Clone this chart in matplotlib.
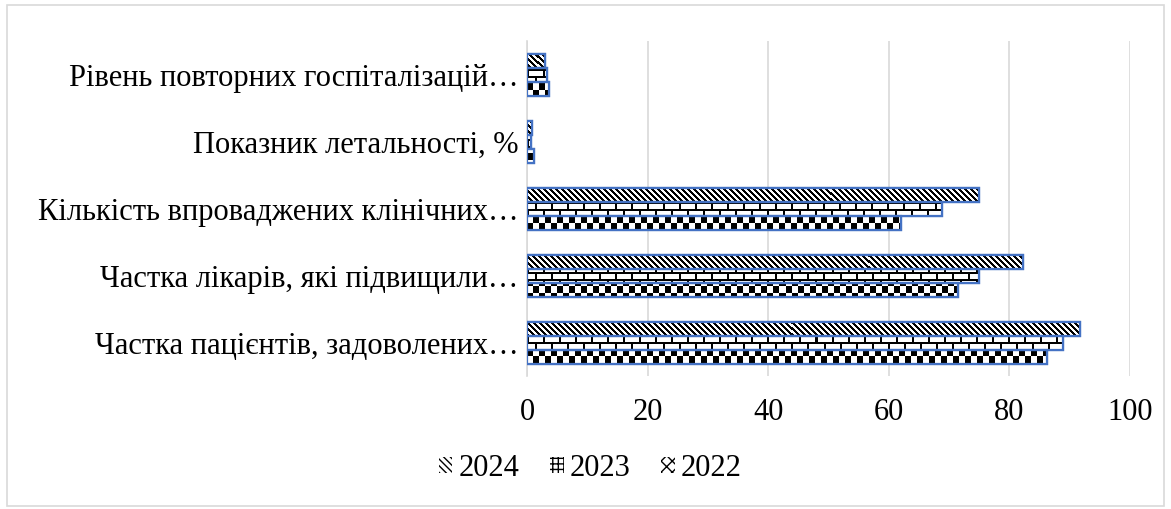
import numpy as np
import matplotlib
matplotlib.use("Agg")
import matplotlib.pyplot as plt
from matplotlib.patches import Patch, Rectangle

# Дані з графіка
categories = [
    "Частка пацієнтів, задоволених…",
    "Частка лікарів, які підвищили…",
    "Кількість впроваджених клінічних…",
    "Показник летальності, %",
    "Рівень повторних госпіталізацій…",
]
years = ["2024", "2023", "2022"]
values_2024 = [91.7, 82.3, 75.0, 0.9, 3.0]
values_2023 = [88.9, 75.0, 68.8, 0.7, 3.3]
values_2022 = [86.2, 71.5, 62.0, 1.1, 3.6]
x_ticks = [0, 20, 40, 60, 80, 100]

plt.rcParams['font.family'] = ['Liberation Serif', 'DejaVu Serif']

BLUE = "#4472C4"
GRID = "#d9d9d9"


def tile_stripes(h, w):
    i, j = np.mgrid[0:h, 0:w]
    return ((j - i) % 6 < 3).astype(float)


def tile_bricks(h, w):
    i, j = np.mgrid[0:h, 0:w]
    row = i // 7
    shift = (row % 2) * 8
    horiz = (i % 7) < 2
    vert = ((j + shift) % 16) < 2
    return (horiz | vert).astype(float)


def tile_checker(h, w):
    i, j = np.mgrid[0:h, 0:w]
    return (((i // 7) + (j // 6)) % 2 == 0).astype(float)


fig = plt.figure(figsize=(11.71, 5.09), dpi=100)
ax = fig.add_axes([0.45, 0.261, 0.515, 0.658])

y = np.arange(len(categories))
h = 0.21
series = [
    (values_2024, +h, tile_stripes, "\\\\\\\\\\"),
    (values_2023, 0.0, tile_bricks, "+++"),
    (values_2022, -h, tile_checker, "xxx"),
]

ax.set_xlim(0, 100)
ax.set_ylim(-0.5, len(categories) - 0.5)

# розмір осей у пікселях для текстур
px_w, px_h = 603, 335
for vals, off, tiler, _ in series:
    bars = ax.barh(y + off, vals, height=h, color="white", edgecolor=BLUE,
                   linewidth=1.6, zorder=3)
    pattern = tiler(px_h, px_w)
    for b in bars:
        im = ax.imshow(pattern, cmap="gray_r", vmin=0, vmax=1,
                       extent=[0, 100, -0.5, len(categories) - 0.5],
                       aspect="auto", interpolation="nearest", zorder=3.5)
        im.set_clip_path(b)
    ax.barh(y + off, vals, height=h, fill=False, edgecolor=BLUE,
            linewidth=1.6, zorder=4)

ax.set_aspect("auto")
ax.set_xlim(0, 100)
ax.set_ylim(-0.5, len(categories) - 0.5)
ax.set_yticks(y)
ax.set_yticklabels(categories, fontsize=22)
ax.set_xticks(x_ticks)
ax.set_xticklabels([str(t) for t in x_ticks], fontsize=22)
ax.tick_params(axis="y", length=0, pad=6)
ax.tick_params(axis="x", length=0, pad=16)
ax.xaxis.grid(True, color=GRID, linewidth=1.2, zorder=0)
ax.set_axisbelow(True)
for s in ["top", "right", "bottom"]:
    ax.spines[s].set_visible(False)
ax.spines["left"].set_color(GRID)
ax.spines["left"].set_linewidth(1.2)

handles = [Patch(facecolor="white", edgecolor="black", hatch=hs, linewidth=0,
                 label=yr) for (_, _, _, hs), yr in zip(series, years)]
fig.legend(handles=handles, loc="center", bbox_to_anchor=(0.504, 0.08),
           ncol=3, frameon=False, fontsize=22, handlelength=0.45,
           handleheight=0.45, handletextpad=0.2, columnspacing=1.0)

fig.patches.append(Rectangle((0.006, 0.006), 0.988, 0.985, transform=fig.transFigure,
                             fill=False, edgecolor=GRID, linewidth=1.2))

fig.savefig("out.png", dpi=100)
